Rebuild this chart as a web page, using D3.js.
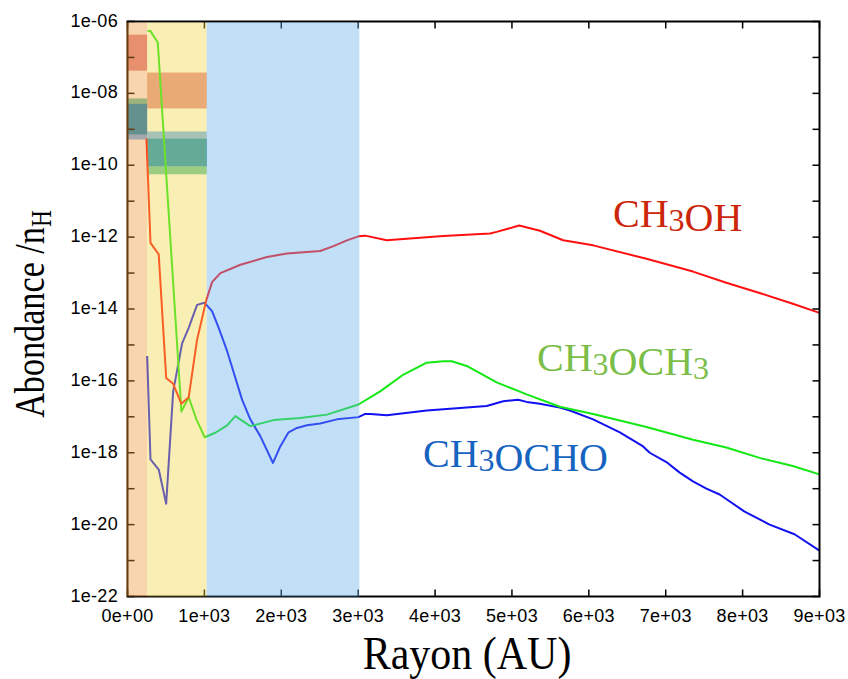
<!DOCTYPE html>
<html><head><meta charset="utf-8">
<script src="https://cdn.jsdelivr.net/npm/d3@7"></script>
<style>body{margin:0;background:#fff}svg{display:block}</style>
</head><body>
<script>
// ---- data ----
const ch3ohX = [247,299,406,503,594,701,796,905,1026,1100,1208,1468,1814,2074,2506,2679,2853,3004,3091,3372,4108,4714,4801,5095,5364,5666,6056,6749,7355,7788,8221,8653,9000];
const ch3ohY = [5.5e-10,6.9e-13,3.3e-13,1.2e-16,8.3e-17,2.3e-17,3.5e-17,1.4e-15,1.8e-14,5.6e-14,1.0e-13,1.7e-13,2.8e-13,3.5e-13,4.1e-13,5.6e-13,8.1e-13,1.05e-12,1.1e-12,8.2e-13,1.07e-12,1.26e-12,1.4e-12,2.1e-12,1.5e-12,8.2e-13,5.9e-13,2.5e-13,1.1e-13,5.4e-14,2.8e-14,1.4e-14,7.8e-15];
const ch3och3X = [260,299,394,701,796,896,1004,1143,1295,1403,1597,1900,2247,2594,3004,3286,3589,3892,4108,4217,4412,4801,5191,5623,6056,6749,7355,7788,8221,8653,9000];
const ch3och3Y = [5.5e-7,5.4e-7,2.6e-7,1.4e-17,3.5e-17,8.5e-18,2.7e-18,3.6e-18,5.8e-18,1.05e-17,5.5e-18,8.1e-18,9.3e-18,1.15e-17,2.2e-17,5.1e-17,1.5e-16,3.2e-16,3.5e-16,3.5e-16,2.6e-16,9.1e-17,4.2e-17,1.9e-17,1.2e-17,5.2e-18,2.3e-18,1.4e-18,7.2e-19,4.3e-19,2.5e-19];
const ch3ochoX = [256,299,406,503,594,710,796,905,1000,1100,1186,1295,1490,1597,1727,1892,1987,2095,2204,2334,2506,2723,3004,3091,3156,3373,3892,4671,4887,5082,5191,5364,5623,5753,6056,6403,6706,6792,7009,7182,7355,7529,7701,8026,8351,8675,9000];
const ch3ochoY = [4.9e-16,6.5e-19,3.4e-19,3.8e-20,5.1e-17,1.1e-15,3.0e-15,1.3e-14,1.5e-14,8.7e-15,3.0e-15,6.8e-16,3.0e-17,8.5e-18,2.9e-18,5.2e-19,1.5e-18,3.7e-18,4.9e-18,5.8e-18,6.5e-18,8.5e-18,9.8e-18,1.2e-17,1.2e-17,1.1e-17,1.5e-17,2.0e-17,2.7e-17,3.0e-17,2.6e-17,2.3e-17,1.8e-17,1.5e-17,8.5e-18,3.7e-18,1.5e-18,1.0e-18,5.5e-19,2.8e-19,1.6e-19,1.0e-19,6.9e-20,2.3e-20,1.0e-20,5.4e-21,1.9e-21];

// zone boundaries (AU)
const zoneEdges = [0, 255, 1030, 3015];
const zoneColors = ["rgb(238,150,50)", "rgb(240,215,70)", "rgb(102,175,238)"];

// observed ranges [x0, x1, low, high]
const ch3ohObs   = [[0,255,4.3e-8,4.3e-7],[255,1030,3.8e-9,3.8e-8]];
const ch3och3Obs = [[0,255,7.2e-10,7.2e-9],[255,1030,5.6e-11,5.5e-10]];
const ch3ochoObs = [[0,255,5.2e-10,5.1e-9],[255,1030,9.4e-11,8.7e-10]];

const xTickValues = [0,1000,2000,3000,4000,5000,6000,7000,8000,9000];
const xTickLabels = ["0e+00","1e+03","2e+03","3e+03","4e+03","5e+03","6e+03","7e+03","8e+03","9e+03"];
const yTickValues = [1e-6,1e-8,1e-10,1e-12,1e-14,1e-16,1e-18,1e-20,1e-22];
const yTickLabels = ["1e-06","1e-08","1e-10","1e-12","1e-14","1e-16","1e-18","1e-20","1e-22"];
const yMinorValues = [1e-7,1e-9,1e-11,1e-13,1e-15,1e-17,1e-19,1e-21];

// ---- layout ----
const W = 848, H = 679;
const L = 127.5, R = 819.5, T = 21.5, B = 596.5;
const svg = d3.select("body").append("svg").attr("width", W).attr("height", H);
svg.append("rect").attr("width", W).attr("height", H).attr("fill", "#fff");

const x = d3.scaleLinear().domain([0, 9000]).range([L, R]);
const y = d3.scaleLog().domain([1e-22, 1e-6]).range([B, T]);

const plot = svg.append("g");

// observation rectangles (under the zone tint)
function obsRect(r, color) {
  plot.append("rect")
    .attr("x", x(r[0])).attr("width", x(r[1]) - x(r[0]))
    .attr("y", y(r[3])).attr("height", y(r[2]) - y(r[3]))
    .attr("fill", color);
}
ch3ohObs.forEach(r => obsRect(r, "rgb(228,140,148)"));
ch3och3Obs.forEach(r => obsRect(r, "rgb(102,199,170)"));
ch3ochoObs.forEach(r => obsRect(r, "rgb(115,180,255)"));
// overlap of the two ranges
ch3och3Obs.forEach((g, i) => {
  const b = ch3ochoObs[i];
  const lo = Math.max(g[2], b[2]), hi = Math.min(g[3], b[3]);
  if (hi > lo) obsRect([g[0], g[1], lo, hi], "rgb(9,140,204)");
});

// lines
const line = d3.line().x(d => x(d[0])).y(d => y(d[1]));
function drawLine(xs, ys, color) {
  plot.append("path").datum(xs.map((v, i) => [v, ys[i]]))
    .attr("d", line).attr("fill", "none").attr("stroke", color)
    .attr("stroke-width", 2).attr("stroke-linejoin", "round");
}
drawLine(ch3ochoX, ch3ochoY, "#1010f0");
drawLine(ch3och3X, ch3och3Y, "#14e814");
drawLine(ch3ohX, ch3ohY, "#ff1010");

// frame
svg.append("rect").attr("x", L).attr("y", T).attr("width", R - L).attr("height", B - T)
  .attr("fill", "none").attr("stroke", "#000").attr("stroke-width", 2);

// ticks (inward)
const tk = 7;
const tg = svg.append("g").attr("stroke", "#000").attr("stroke-width", 1.5);
xTickValues.forEach(v => {
  tg.append("line").attr("x1", x(v)).attr("x2", x(v)).attr("y1", B).attr("y2", B - tk);
  tg.append("line").attr("x1", x(v)).attr("x2", x(v)).attr("y1", T).attr("y2", T + tk);
});
yTickValues.concat(yMinorValues).forEach(v => {
  tg.append("line").attr("x1", L).attr("x2", L + tk).attr("y1", y(v)).attr("y2", y(v));
  tg.append("line").attr("x1", R).attr("x2", R - tk).attr("y1", y(v)).attr("y2", y(v));
});

// zone tints on top
for (let i = 0; i < zoneColors.length; i++) {
  const x0 = i === 0 ? L - 1.5 : x(zoneEdges[i]);
  svg.append("rect").attr("x", x0).attr("width", x(zoneEdges[i + 1]) - x0)
    .attr("y", T + 1).attr("height", B - T - 1)
    .attr("fill", zoneColors[i]).attr("fill-opacity", 0.4);
}

// tick labels
const tf = "'Liberation Sans', Arial, sans-serif";
xTickValues.forEach((v, i) => {
  svg.append("text").attr("x", x(v)).attr("y", 621.5).attr("text-anchor", "middle")
    .attr("font-family", tf).attr("font-size", 18).attr("letter-spacing", 0.3)
    .attr("fill", "#000").text(xTickLabels[i]);
});
yTickValues.forEach((v, i) => {
  svg.append("text").attr("x", 118).attr("y", y(v) + 5).attr("text-anchor", "end")
    .attr("font-family", tf).attr("font-size", 18).attr("letter-spacing", 0.3)
    .attr("fill", "#000").text(yTickLabels[i]);
});

// axis titles
const sf = "'Liberation Serif', 'Times New Roman', serif";
svg.append("text").attr("transform", "translate(467,669) scale(1,1.12)")
  .attr("text-anchor", "middle")
  .attr("font-family", sf).attr("font-size", 42).attr("fill", "#000").text("Rayon (AU)");
const yt = svg.append("text").attr("transform", "translate(44,314) rotate(-90) scale(0.9,1.12)")
  .attr("text-anchor", "middle").attr("font-family", sf).attr("font-size", 38).attr("fill", "#000");
yt.append("tspan").text("Abondance /n");
yt.append("tspan").attr("font-size", 26).attr("dy", 6).text("H");

// series labels
function chemLabel(px, py, parts, color) {
  const t = svg.append("text").attr("x", px).attr("y", py).attr("font-family", sf)
    .attr("font-size", 40).attr("fill", color);
  parts.forEach(p => {
    if (p === "3") {
      t.append("tspan").attr("font-size", 32).attr("dy", 4).text("3");
      t.append("tspan").attr("dy", -4).text("");
    } else t.append("tspan").text(p);
  });
}
chemLabel(613, 227, ["CH", "3", "OH"], "rgb(204,38,10)");
chemLabel(537, 371, ["CH", "3", "OCH", "3"], "rgb(122,190,72)");
chemLabel(423, 467, ["CH", "3", "OCHO"], "rgb(22,100,192)");
</script>
</body></html>
